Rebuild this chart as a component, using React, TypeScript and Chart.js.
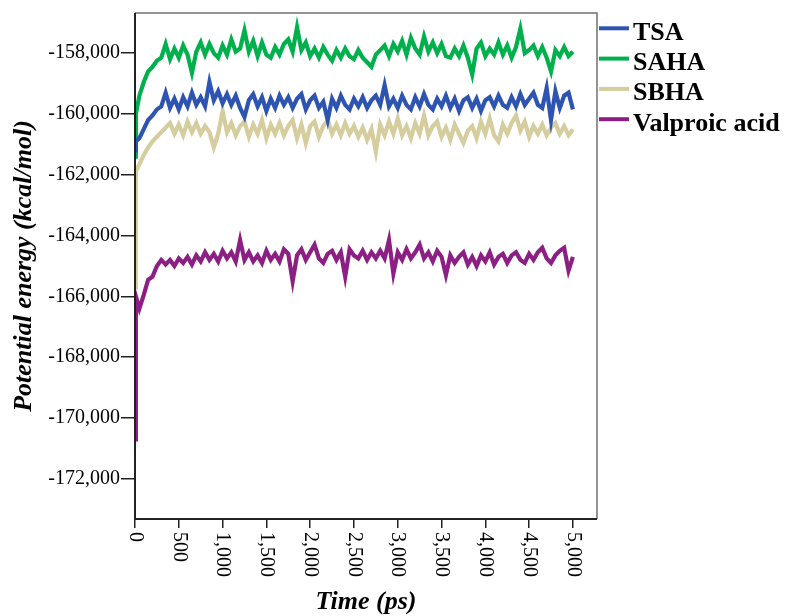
import React, { useEffect, useRef } from "react";
import { Chart, registerables } from "chart.js";

Chart.register(...registerables);

// Time (ps)
const times = [
  0, 10, 50, 100, 150, 200, 250, 300, 350, 400, 450, 500, 550, 600, 650, 700, 750, 800, 850, 900, 950,
  1000, 1050, 1100, 1150, 1200, 1250, 1300, 1350, 1400, 1450, 1500, 1550, 1600, 1650, 1700, 1750, 1800, 1850, 1900, 1950,
  2000, 2050, 2100, 2150, 2200, 2250, 2300, 2350, 2400, 2450, 2500, 2550, 2600, 2650, 2700, 2750, 2800, 2850, 2900, 2950,
  3000, 3050, 3100, 3150, 3200, 3250, 3300, 3350, 3400, 3450, 3500, 3550, 3600, 3650, 3700, 3750, 3800, 3850, 3900, 3950,
  4000, 4050, 4100, 4150, 4200, 4250, 4300, 4350, 4400, 4450, 4500, 4550, 4600, 4650, 4700, 4750, 4800, 4850, 4900, 4950,
  5000,
];

const tsa = [
  -161200, -160900, -160800, -160500, -160200, -160050, -159850, -159750, -159300, -159800, -159500, -159850, -159450, -159750, -159300, -159700, -159450, -159750, -158950, -159550, -159250,
  -159650, -159350, -159700, -159400, -159800, -160100, -159550, -159350, -159750, -159450, -159900, -159500, -159800, -159400, -159700, -159450, -159800, -159500, -159350, -159850,
  -159550, -159400, -159800, -159600, -160200, -159500, -159800, -159400, -159700, -159850, -159500, -159750, -159450, -159800, -159550, -159400, -159700, -159050, -159750, -159500,
  -159800, -159400, -159700, -159850, -159450, -159750, -159350, -159700, -159850, -159500, -159750, -159400, -159800, -159500, -159900, -159550, -159450, -159800, -159500, -159900,
  -159550, -159450, -159750, -159400, -159700, -159800, -159450, -159750, -159350, -159700, -159500, -159300, -159700, -159800, -159150, -160200, -159250, -159800, -159400, -159300,
  -159850,
];

const saha = [
  -161400, -160000, -159400, -158950, -158600, -158450, -158250, -158150, -157700, -158200, -157850, -158150, -157750, -158050, -158650, -157950, -157650, -158050, -157700, -158000, -158150,
  -157750, -158050, -157550, -157950, -157850, -157250, -157950, -157600, -158100, -157650, -158050, -158150, -157800, -158050, -157700, -157550, -157950, -157150, -157900, -157650,
  -158100, -157850, -158150, -157800, -158050, -158250, -157900, -158150, -157850, -158100, -158200, -157900, -158150, -158300, -158450, -158050, -157900, -157750, -158100, -157700,
  -157950, -157600, -158050, -157500, -157850, -158050, -157450, -157950, -157650, -158000, -157700, -158100, -158150, -157850, -158100, -157750, -158150, -158700, -157850, -157650,
  -158100, -157850, -158050, -157650, -158050, -157750, -158150, -157800, -157200, -158000, -157900, -157750, -158100, -157800, -158150, -158600, -157900, -158100, -157800, -158100,
  -157950,
];

const sbha = [
  -165700, -161900, -161650, -161350, -161100, -160900, -160750, -160600, -160450, -160300, -160650, -160350, -160700, -160250, -160600, -160300, -160650, -160400, -160600, -161100, -160650,
  -159900, -160600, -160300, -160700, -160400, -160250, -160750, -160350, -160650, -160200, -160800, -160350, -160650, -160300, -160700, -160400, -160200, -160800, -160350, -160950,
  -160400, -160250, -160750, -160400, -160200, -160650, -160350, -160700, -160300, -160650, -160400, -160750, -160450, -160850, -160500, -161250, -160350, -160700, -160250, -160650,
  -160150, -160700, -160400, -160800, -160300, -160650, -160050, -160700, -160400, -160250, -160750, -160450, -160850, -160350, -160650, -160950, -160550, -160400, -160800, -160250,
  -160650, -160150, -160700, -160900, -160350, -160650, -160300, -160050, -160550, -160250, -160750, -160400, -160650, -160350, -160700, -160450, -160300, -160650, -160400, -160700,
  -160500,
];

const valproic = [
  -170700, -166000, -166400, -165950, -165450, -165350, -165000, -164800, -164950, -164800, -165000, -164750, -164900, -164700, -164950, -164650, -164850, -164550, -164800, -164600, -164850,
  -164500, -164750, -164550, -164850, -164150, -164800, -164550, -164850, -164650, -164900, -164500, -164800, -164600, -164850, -164450, -164600, -165500, -164650, -164450, -164800,
  -164550, -164300, -164750, -164900, -164600, -164500, -164800, -164550, -165350, -164450, -164650, -164750, -164500, -164800, -164550, -164750, -164500, -164750, -164150, -165250,
  -164550, -164800, -164450, -164750, -164550, -164300, -164750, -164550, -164850, -164500, -164700, -165300, -164650, -164900, -164700, -164550, -164950, -164700, -165000, -164650,
  -164850, -164550, -164950, -164700, -164600, -164900, -164650, -164550, -164800, -164900, -164600, -164800, -164550, -164400, -164750, -164900, -164650, -164500, -164400, -165150,
  -164700,
];

const seriesNames = ["TSA", "SAHA", "SBHA", "Valproic acid"];
const seriesValues = [tsa, saha, sbha, valproic];
const seriesColors = ["#2E54B2", "#00B04C", "#D6CD9E", "#8C1F84"];

const xTickValues = [0, 500, 1000, 1500, 2000, 2500, 3000, 3500, 4000, 4500, 5000];
const yTickValues = [-172000, -170000, -168000, -166000, -164000, -162000, -160000, -158000];
const xMin = 0;
const xMax = 5275;
const yMin = -173320;
const yMax = -156680;

const xTitle = "Time (ps)";
const yTitle = "Potential energy (kcal/mol)";

const fmt = (v: number) => v.toLocaleString("en-US");

const SERIF = '"Liberation Serif", "Times New Roman", serif';

const decorPlugin = {
  id: "decor",
  afterDatasetsDraw(chart: any) {
    const { ctx, chartArea } = chart;
    const { left, right, top, bottom } = chartArea;
    ctx.save();
    // frame
    ctx.lineCap = "butt";
    ctx.strokeStyle = "#707070";
    ctx.lineWidth = 1.5;
    ctx.beginPath();
    ctx.moveTo(left, top);
    ctx.lineTo(right, top);
    ctx.lineTo(right, bottom);
    ctx.stroke();
    ctx.strokeStyle = "#222";
    ctx.lineWidth = 2;
    ctx.beginPath();
    ctx.moveTo(left, top);
    ctx.lineTo(left, bottom);
    ctx.lineTo(right, bottom);
    ctx.stroke();

    // x tick labels (rotated clockwise)
    const xs = chart.scales.x;
    ctx.fillStyle = "#000";
    ctx.font = `20px ${SERIF}`;
    ctx.textAlign = "left";
    ctx.textBaseline = "middle";
    xTickValues.forEach((v) => {
      const px = xs.getPixelForValue(v);
      ctx.save();
      ctx.translate(px, bottom + 13);
      ctx.rotate(Math.PI / 2);
      ctx.fillText(fmt(v), 0, 0);
      ctx.restore();
    });

    // axis titles
    ctx.font = `bold italic 26px ${SERIF}`;
    ctx.textAlign = "center";
    ctx.textBaseline = "middle";
    ctx.fillText(xTitle, (left + right) / 2, bottom + 83);
    ctx.save();
    ctx.translate(24, (top + bottom) / 2);
    ctx.rotate(-Math.PI / 2);
    ctx.fillText(yTitle, 0, 0);
    ctx.restore();

    // legend
    seriesNames.forEach((name, i) => {
      const y = top + 15.3 + i * 30.3;
      ctx.strokeStyle = seriesColors[i];
      ctx.lineWidth = 4;
      ctx.beginPath();
      ctx.moveTo(right + 2, y);
      ctx.lineTo(right + 32, y);
      ctx.stroke();
      ctx.fillStyle = "#000";
      ctx.font = `bold 26px ${SERIF}`;
      ctx.textAlign = "left";
      ctx.textBaseline = "alphabetic";
      ctx.fillText(name, right + 36, y + 11.5);
    });
    ctx.restore();
  },
};

export default function App() {
  const canvasRef = useRef<HTMLCanvasElement | null>(null);

  useEffect(() => {
    const canvas = canvasRef.current;
    if (!canvas) return;
    const datasets = seriesNames.map((name, i) => ({
      label: name,
      data: seriesValues[i].map((y, j) => ({ x: times[j], y })),
      borderColor: seriesColors[i],
      backgroundColor: seriesColors[i],
      borderWidth: 4.2,
      borderJoinStyle: "miter" as const,
      pointRadius: 0,
      tension: 0,
      fill: false,
    }));
    const chart = new Chart(canvas, {
      type: "line",
      data: { datasets },
      options: {
        responsive: false,
        animation: false,
        devicePixelRatio: 1,
        layout: { padding: { left: 0, top: 13, right: 191, bottom: 0 } },
        plugins: {
          legend: { display: false },
          tooltip: { enabled: false },
        },
        scales: {
          x: {
            type: "linear",
            min: xMin,
            max: xMax,
            afterBuildTicks: (scale: any) => {
              scale.ticks = xTickValues.map((v) => ({ value: v }));
            },
            afterFit: (scale: any) => {
              scale.height = 97;
            },
            ticks: { display: false },
            grid: {
              drawOnChartArea: false,
              drawTicks: true,
              tickLength: 9,
              color: "#222",
              lineWidth: 1.5,
            },
            border: { display: false },
          },
          y: {
            type: "linear",
            min: yMin,
            max: yMax,
            afterBuildTicks: (scale: any) => {
              scale.ticks = yTickValues.map((v) => ({ value: v }));
            },
            afterFit: (scale: any) => {
              scale.width = 135;
            },
            ticks: {
              color: "#000",
              font: { family: SERIF, size: 20 },
              padding: 1,
              callback: (v: any) => fmt(Number(v)),
            },
            grid: {
              drawOnChartArea: false,
              drawTicks: true,
              tickLength: 14,
              color: "#222",
              lineWidth: 1.5,
            },
            border: { display: false },
          },
        },
      },
      plugins: [decorPlugin],
    });
    return () => chart.destroy();
  }, []);

  return (
    <div style={{ position: "absolute", left: 0, top: 0, width: 788, height: 616, background: "#fff" }}>
      <canvas ref={canvasRef} width={788} height={616} style={{ display: "block", width: 788, height: 616 }} />
    </div>
  );
}
